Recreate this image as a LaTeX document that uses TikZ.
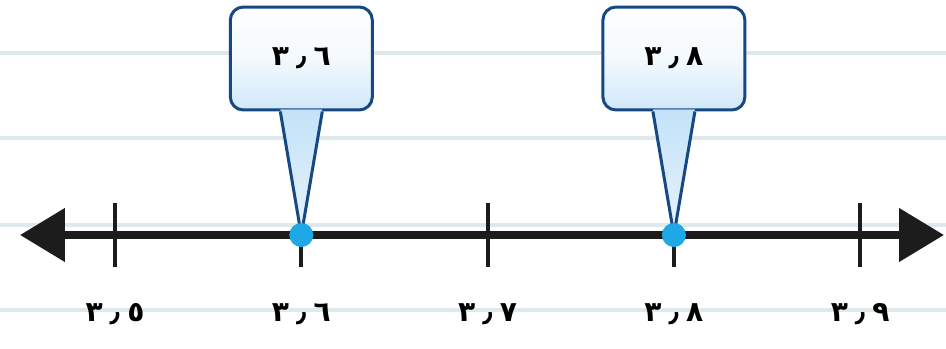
\documentclass[tikz,border=0pt]{standalone}
\usepackage{fontspec}
\usepackage{xcolor}
\usetikzlibrary{positioning,arrows.meta,calc}
\newfontfamily\arabicfont[Script=Arabic]{DejaVu Sans}
\definecolor{ruleclr}{RGB}{222,233,237}
\definecolor{edgeclr}{RGB}{22,72,132}
\definecolor{hitclr}{RGB}{30,168,230}
\definecolor{tipclr}{RGB}{196,226,248}
\definecolor{axisclr}{RGB}{28,28,28}
\newcommand{\dec}[1]{٣\kern0.25em٫\kern0.25em#1}
\tikzset{
  ruled/.style={draw=ruleclr,line width=0.07cm},
  axisline/.style={draw=axisclr,line width=0.16cm,
                   {Triangle[length=0.9cm,width=1.04cm]}-{Triangle[length=0.9cm,width=1.04cm]}},
  tickmark/.style={draw=axisclr,line width=0.08cm},
  numlab/.style={font=\arabicfont\bfseries\fontsize{16}{19}\selectfont,inner sep=0pt},
  boxlab/.style={rectangle,draw=edgeclr,line width=0.06cm,rounded corners=0.26cm,
                 top color=white,bottom color=tipclr!80,middle color=white!80!tipclr,
                 minimum width=2.84cm,minimum height=2.06cm,
                 font=\arabicfont\bfseries\fontsize{16}{19}\selectfont},
  pointer/.style={top color=tipclr,bottom color=white!60!tipclr},
  pointeredge/.style={draw=edgeclr,line width=0.06cm,line join=round},
  hitdot/.style={circle,fill=hitclr,minimum size=0.48cm,inner sep=0pt},
}
\begin{document}
\begin{tikzpicture}[x=0.02cm,y=-0.02cm]
\useasboundingbox (0,0) rectangle (946,348);
\fill[white] (0,0) rectangle (946,348);
% notebook lines
\foreach \y in {53,138,225,310}
  \draw[ruled] (0,\y) -- (946,\y);
% number line
\coordinate (lend) at (20,235);
\coordinate (rend) at (944,235);
\draw[axisline] (lend) -- (rend);
\foreach \i/\d in {0/٥,1/٦,2/٧,3/٨,4/٩}{
  \coordinate (t\i) at (115+186.3*\i,235);
  \draw[tickmark] (115+186.3*\i,203) -- (115+186.3*\i,267);
  \node[numlab] (lab\i) at (115+186.3*\i,314) {\dec{\d}};
}
% callouts
\foreach \k/\d in {1/٦,3/٨}{
  \node[boxlab] (box\k) at ($(t\k)+(0,-176.5)$) {\dec{\d}};
  \fill[pointer] ($(box\k.south)+(-21,-2)$) -- (t\k) -- ($(box\k.south)+(21,-2)$) -- cycle;
  \draw[pointeredge] ($(box\k.south)+(-21,0)$) -- (t\k) -- ($(box\k.south)+(21,0)$);
  \node[hitdot] (hit\k) at (t\k) {};
}
\end{tikzpicture}
\end{document}
